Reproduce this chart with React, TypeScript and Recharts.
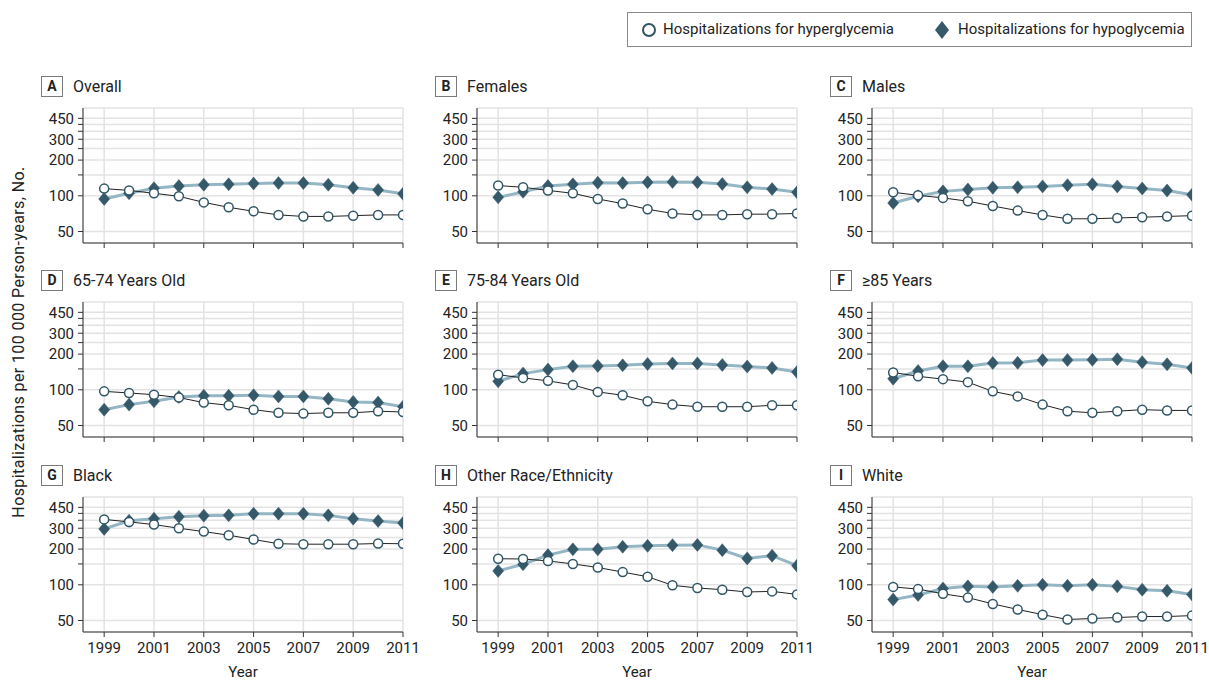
import React from 'react'
import { LineChart, Line, XAxis, YAxis, CartesianGrid } from 'recharts'

const years = [1999, 2000, 2001, 2002, 2003, 2004, 2005, 2006, 2007, 2008, 2009, 2010, 2011]
const xTicks = [1999, 2001, 2003, 2005, 2007, 2009, 2011]
const yTicks = [50, 100, 150, 200, 250, 300, 350, 400, 450]
const yLabels = [50, 100, 200, 300, 450]

const overallHyper = [115, 111, 105, 99, 88, 80, 74, 69, 67, 67, 68, 69, 69]
const overallHypo = [94, 105, 116, 121, 124, 125, 127, 128, 128, 124, 117, 112, 104]
const femalesHyper = [122, 118, 111, 105, 94, 86, 77, 71, 69, 69, 70, 70, 71]
const femalesHypo = [97, 108, 121, 125, 129, 128, 130, 131, 130, 126, 118, 114, 107]
const malesHyper = [107, 101, 96, 90, 82, 75, 69, 64, 64, 65, 66, 67, 68]
const malesHypo = [87, 99, 109, 113, 117, 118, 120, 123, 125, 120, 115, 111, 102]
const age6574Hyper = [97, 94, 91, 86, 78, 74, 68, 64, 63, 64, 64, 66, 65]
const age6574Hypo = [68, 75, 80, 87, 89, 89, 90, 88, 88, 84, 79, 78, 72]
const age7584Hyper = [134, 126, 119, 110, 96, 90, 80, 75, 72, 72, 72, 74, 74]
const age7584Hypo = [118, 137, 148, 158, 159, 161, 165, 167, 167, 162, 157, 153, 141]
const age85Hyper = [140, 130, 123, 116, 97, 88, 75, 66, 64, 66, 68, 67, 67]
const age85Hypo = [124, 144, 158, 158, 168, 169, 178, 178, 179, 181, 171, 164, 153]
const blackHyper = [356, 339, 322, 300, 281, 262, 241, 222, 220, 220, 220, 223, 222]
const blackHypo = [296, 347, 361, 375, 383, 385, 398, 398, 398, 385, 361, 345, 332]
const otherHyper = [166, 165, 159, 150, 140, 128, 117, 99, 94, 91, 87, 88, 83]
const otherHypo = [131, 149, 178, 199, 199, 209, 213, 216, 217, 196, 167, 176, 145]
const whiteHyper = [96, 92, 84, 78, 69, 62, 56, 51, 52, 53, 54, 54, 55]
const whiteHypo = [75, 82, 93, 97, 96, 98, 100, 98, 100, 97, 91, 89, 83]

const panels = [
  { letter: 'A', title: 'Overall', hyper: overallHyper, hypo: overallHypo },
  { letter: 'B', title: 'Females', hyper: femalesHyper, hypo: femalesHypo },
  { letter: 'C', title: 'Males', hyper: malesHyper, hypo: malesHypo },
  { letter: 'D', title: '65-74 Years Old', hyper: age6574Hyper, hypo: age6574Hypo },
  { letter: 'E', title: '75-84 Years Old', hyper: age7584Hyper, hypo: age7584Hypo },
  { letter: 'F', title: '≥85 Years', hyper: age85Hyper, hypo: age85Hypo },
  { letter: 'G', title: 'Black', hyper: blackHyper, hypo: blackHypo },
  { letter: 'H', title: 'Other Race/Ethnicity', hyper: otherHyper, hypo: otherHypo },
  { letter: 'I', title: 'White', hyper: whiteHyper, hypo: whiteHypo },
]

const FONT = 'Roboto, "Noto Sans", sans-serif'
const TEXT = '#222'
const DARK = '#36596a'
const LIGHT = '#93b5c4'

const colLeft = [83, 477, 872]
const rowTop = [108, 302, 497]
const plotW = 320
const plotH = 135
const yAxisW = 50
const rightPad = 24

// diamond marker for the hypoglycemia series
const Diamond = (props: any) => {
  const { cx, cy, index } = props
  if (cx == null || cy == null) return <g key={`d-${index}`} />
  return (
    <path
      key={`d-${index}`}
      d={`M${cx},${cy - 6.5} L${cx + 5.5},${cy} L${cx},${cy + 6.5} L${cx - 5.5},${cy} Z`}
      fill={DARK}
      stroke={DARK}
      strokeWidth={0.5}
    />
  )
}

function Panel({ panel, row, col }: { panel: any; row: number; col: number }) {
  const bottom = row === 2
  const data = years.map((year, i) => ({ year, hyper: panel.hyper[i], hypo: panel.hypo[i] }))
  const left = colLeft[col]
  const top = rowTop[row]
  const xh = bottom ? 30 : 12
  const width = yAxisW + plotW + rightPad
  const height = 10 + plotH + xh

  return (
    <>
      <div
        style={{
          position: 'absolute', left: left - 42, top: top - 32, width: 20, height: 19,
          border: '1px solid #7a7a7a', fontFamily: FONT, fontWeight: 700, fontSize: 14,
          color: TEXT, textAlign: 'center', lineHeight: '19px',
        }}
      >
        {panel.letter}
      </div>
      <div
        style={{
          position: 'absolute', left: left - 10, top: top - 32, height: 21, lineHeight: '21px',
          fontFamily: FONT, fontSize: 16, color: TEXT, whiteSpace: 'nowrap',
        }}
      >
        {panel.title}
      </div>
      <div style={{ position: 'absolute', left: left - yAxisW, top: top - 10 }}>
        <LineChart width={width} height={height} data={data} margin={{ top: 10, right: rightPad, left: 0, bottom: 0 }}>
          <CartesianGrid stroke="#e3e3e3" strokeWidth={1.5} />
          <XAxis
            dataKey="year"
            type="number"
            domain={[1998.15, 2011]}
            ticks={xTicks}
            allowDataOverflow
            interval={0}
            height={xh}
            stroke="#333"
            tickSize={5}
            tickMargin={5}
            tick={{ fill: TEXT, fontSize: 15, fontFamily: FONT }}
            tickFormatter={(v: number) => (bottom ? String(v) : '')}
          />
          <YAxis
            type="number"
            scale="log"
            domain={[40, 550]}
            ticks={yTicks}
            allowDataOverflow
            interval={0}
            width={yAxisW}
            stroke="#333"
            tickSize={5}
            tickMargin={4}
            tick={{ fill: TEXT, fontSize: 15, fontFamily: FONT }}
            tickFormatter={(v: number) => (yLabels.includes(v) ? String(v) : '')}
          />
          <Line
            dataKey="hypo"
            stroke={LIGHT}
            strokeWidth={3}
            dot={Diamond}
            activeDot={false}
            isAnimationActive={false}
          />
          <Line
            dataKey="hyper"
            stroke="#222"
            strokeWidth={1}
            dot={{ r: 4.5, fill: '#fff', stroke: '#2f5566', strokeWidth: 1.5 }}
            activeDot={false}
            isAnimationActive={false}
          />
        </LineChart>
      </div>
      {bottom && (
        <div
          style={{
            position: 'absolute', left: left, width: plotW, top: 663, height: 18, lineHeight: '18px',
            textAlign: 'center', fontFamily: FONT, fontSize: 15, color: TEXT,
          }}
        >
          Year
        </div>
      )}
    </>
  )
}

export default function App() {
  return (
    <div style={{ position: 'absolute', left: 0, top: 0, width: 1209, height: 682, background: '#fff', overflow: 'hidden' }}>
      {/* legend */}
      <div
        style={{
          position: 'absolute', left: 627, top: 12, width: 563, height: 33,
          border: '1px solid #8a8a8a', fontFamily: FONT, fontSize: 15, color: TEXT,
        }}
      >
        <svg style={{ position: 'absolute', left: 13, top: 9 }} width={16} height={16}>
          <circle cx={8} cy={8} r={6} fill="#fff" stroke="#2f5566" strokeWidth={2} />
        </svg>
        <div style={{ position: 'absolute', left: 35, top: 0, lineHeight: '33px', whiteSpace: 'nowrap' }}>
          Hospitalizations for hyperglycemia
        </div>
        <svg style={{ position: 'absolute', left: 305, top: 6 }} width={18} height={22}>
          <path d="M9,2 L16,11 L9,20 L2,11 Z" fill={DARK} />
        </svg>
        <div style={{ position: 'absolute', left: 330, top: 0, lineHeight: '33px', whiteSpace: 'nowrap' }}>
          Hospitalizations for hypoglycemia
        </div>
      </div>

      {/* shared y-axis label */}
      <div
        style={{
          position: 'absolute', left: 18, top: 342, transform: 'translate(-50%, -50%) rotate(-90deg)',
          fontFamily: FONT, fontSize: 16, letterSpacing: 0.4, color: TEXT, whiteSpace: 'nowrap',
        }}
      >
        Hospitalizations per 100 000 Person-years, No.
      </div>

      {panels.map((p, i) => (
        <Panel key={p.letter} panel={p} row={Math.floor(i / 3)} col={i % 3} />
      ))}
    </div>
  )
}
